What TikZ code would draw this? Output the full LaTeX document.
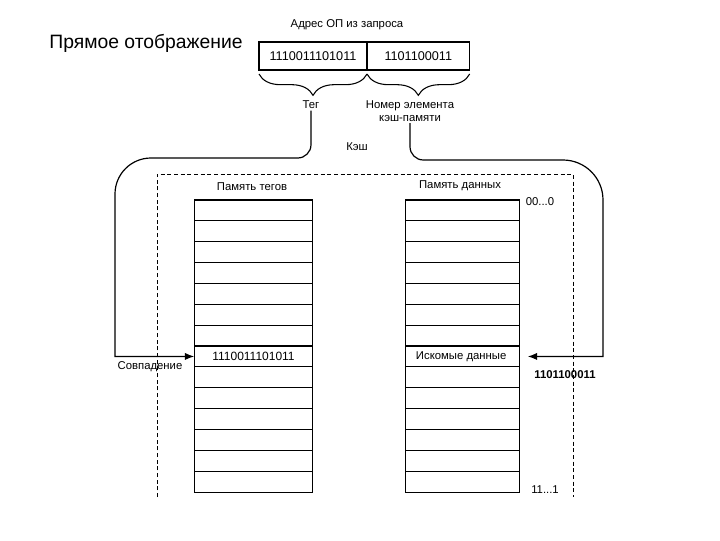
\documentclass[tikz,border=0pt]{standalone}
\usepackage{fontspec}
\setmainfont{Liberation Sans}
\usetikzlibrary{arrows, arrows.meta, positioning, calc, decorations.pathreplacing}

\tikzset{
  cell/.style={draw, line width=0.8pt, minimum height=15.65pt, inner sep=0pt, outer sep=0pt, font=\fontsize{8}{9}\selectfont},
  tagcell/.style={cell, minimum width=89pt},
  datacell/.style={cell, minimum width=86pt},
  field/.style={draw, line width=0.8pt, minimum height=21pt, inner sep=0pt, outer sep=0pt, font=\fontsize{9.5}{11}\selectfont},
  lbl/.style={font=\fontsize{8.5}{10}\selectfont, inner sep=1pt},
  wire/.style={line width=0.9pt, -{Latex[length=7pt, width=5.5pt]}},
  brc/.style={decorate, decoration={brace, mirror, amplitude=16pt, raise=3pt}, line width=0.8pt},
}

\begin{document}
\begin{tikzpicture}[x=0.75pt, y=-0.75pt]
        \useasboundingbox (0,0) rectangle (720,540);

        % Title
        \node[font=\fontsize{14.5}{16}\selectfont] (title) at (146,43) {Прямое отображение};

        % Address from request
        \node[lbl] (addr) at (347,25) {Адрес ОП из запроса};
        \node[field, minimum width=81pt] (tagf) at (313,56) {1110011101011};
        \node[field, minimum width=77pt, right=0pt of tagf] (idxf) {1101100011};
        \draw[brc] (tagf.south west) -- (tagf.south east);
        \draw[brc] (idxf.south west) -- (idxf.south east);
        \node[lbl] (teg) at (311,105) {Тег};
        \node[lbl, align=center] (idx) at (410,111) {Номер элемента\\кэш-памяти};
        \node[lbl] (cache) at (357,147) {Кэш};

        % Cache (dashed frame)
        \draw[dash pattern=on 3pt off 2pt, line width=0.6pt] (157,497) -- (157,174) -- (573,174) -- (573,497);

        % Tag memory and data memory
        \node[lbl] (tagmem) at (252,187) {Память тегов};
        \node[lbl] (datamem) at (460,186) {Память данных};
        \foreach \i in {1,...,14} {
            \node[tagcell] (t\i) at (253.5,{200+(\i-0.5)*20.86}) {};
            \node[datacell] (d\i) at (462.5,{200+(\i-0.5)*20.86}) {};
        }
        \node[font=\fontsize{9}{10}\selectfont] at (t8) {1110011101011};
        \node[font=\fontsize{8.5}{10}\selectfont] at ([xshift=-1pt]d8) {Искомые данные};
        \node[lbl] (first) at (540,202) {00...0};
        \node[lbl] (last) at (545,490) {11...1};

        % Tag compare
        \draw[wire] (teg.south) [rounded corners=10pt] -- (teg.south |- 0,158)
            [rounded corners=27pt] -- (115,158) [sharp corners] -- (115,0 |- t8.west) -- (t8.west);
        \node[lbl] (match) at (150,367) {Совпадение};

        % Line number
        \draw[wire, shorten >=6pt] (idx.south) [rounded corners=10pt] -- (idx.south |- 0,160)
            [rounded corners=30pt] -- (603,160) [sharp corners] -- (603,0 |- d8.east) -- (d8.east);
        \node[lbl, font=\fontsize{8.5}{10}\selectfont\bfseries] (line) at (565,375) {1101100011};
\end{tikzpicture}
\end{document}
